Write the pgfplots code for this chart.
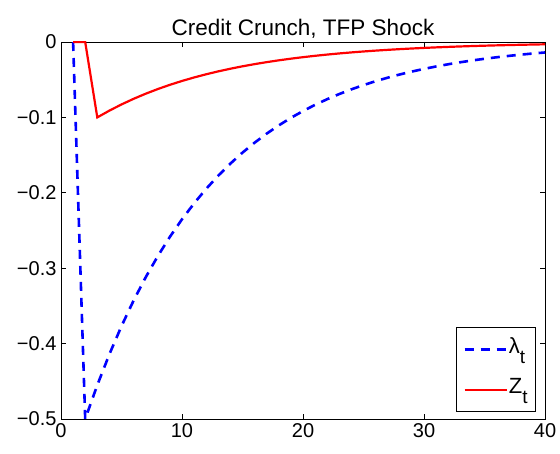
\documentclass[border=0pt]{standalone}
\usepackage{pgfplots}
\pgfplotsset{compat=1.18}
\usepackage{fontspec}
\setmainfont{Liberation Sans}

\pgfplotstableread{
t lam
1 0
2 -0.5
3 -0.455
4 -0.41405
5 -0.376786
6 -0.342875
7 -0.312016
8 -0.283935
9 -0.258381
10 -0.235127
11 -0.213965
12 -0.194708
13 -0.177185
14 -0.161238
15 -0.146727
16 -0.133521
17 -0.121504
18 -0.110569
19 -0.100618
20 -0.091562
21 -0.083322
22 -0.075823
23 -0.068999
24 -0.062789
25 -0.057138
26 -0.051995
27 -0.047316
28 -0.043057
29 -0.039182
30 -0.035656
31 -0.032447
32 -0.029527
33 -0.026869
34 -0.024451
35 -0.022251
36 -0.020248
37 -0.018426
38 -0.016768
39 -0.015259
40 -0.013885
}\lamdata

\pgfplotstableread{
t z
1 0
2 0
3 -0.1
4 -0.091
5 -0.08281
6 -0.075357
7 -0.068575
8 -0.062403
9 -0.056787
10 -0.051676
11 -0.047025
12 -0.042793
13 -0.038942
14 -0.035437
15 -0.032248
16 -0.029345
17 -0.026704
18 -0.024301
19 -0.022114
20 -0.020124
21 -0.018312
22 -0.016664
23 -0.015165
24 -0.013800
25 -0.012558
26 -0.011428
27 -0.010399
28 -0.009463
29 -0.008611
30 -0.007836
31 -0.007131
32 -0.006489
33 -0.005905
34 -0.005374
35 -0.004890
36 -0.004450
37 -0.004050
38 -0.003685
39 -0.003354
40 -0.003052
}\zdata

\newcommand{\sub}[1]{\raisebox{-0.45em}{\fontsize{19}{20}\selectfont #1}}

\begin{document}
\begin{tikzpicture}
\begin{axis}[
    width=484pt, height=377pt, scale only axis,
    xmin=0, xmax=40, ymin=-0.5, ymax=0,
    xtick={0,10,20,30,40},
    ytick={-0.5,-0.4,-0.3,-0.2,-0.1,0},
    xticklabels={0,10,20,30,40},
    yticklabels={−0.5,−0.4,−0.3,−0.2,−0.1,0},
    tick align=inside,
    major tick length=5pt,
    axis line style={line width=0.8pt},
    every tick/.style={black, line width=0.8pt},
    ticklabel style={font=\fontsize{20}{22}\selectfont},
    xticklabel style={yshift=-1pt},
    yticklabel style={xshift=-1pt},
    title={Credit Crunch, TFP Shock},
    title style={font=\fontsize{22.5}{24}\selectfont, yshift=-6pt},
    legend style={at={(1,0)}, anchor=south east, xshift=-9pt, yshift=7pt,
        draw=black, line width=0.8pt, font=\fontsize{22}{24}\selectfont,
        inner xsep=7pt, inner ysep=4pt, row sep=4pt,
        nodes={inner xsep=1pt, text depth=12pt, text height=20pt}},
    legend cell align=left,
    legend image code/.code={\draw[#1] (0pt,0pt) -- (42pt,0pt);},
]
\addplot[blue, line width=2.6pt, dash pattern=on 9pt off 7pt] table[x=t, y=lam] {\lamdata};
\addlegendentry{λ\sub{t}}
\addplot[red, line width=2.2pt] table[x=t, y=z] {\zdata};
\addlegendentry{Z\sub{t}}
\end{axis}
\path (current axis.south west) ++(-61pt,-34pt) coordinate (bl);
\path (current axis.north east) ++(15pt,42pt) coordinate (tr);
\path (bl) rectangle (tr);
\end{tikzpicture}
\end{document}
